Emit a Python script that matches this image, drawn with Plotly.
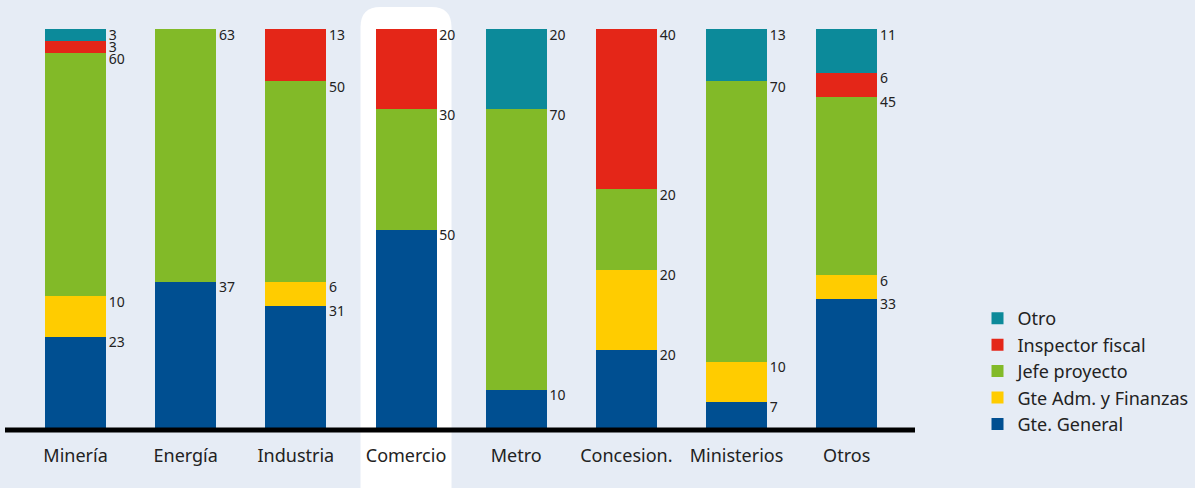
import plotly.graph_objects as go

categories = ["Minería", "Energía", "Industria", "Comercio", "Metro", "Concesion.", "Ministerios", "Otros"]
gte_general = [23, 37, 31, 50, 10, 20, 7, 33]
gte_adm = [10, 0, 6, 0, 0, 20, 10, 6]
jefe_proyecto = [60, 63, 50, 30, 70, 20, 70, 45]
inspector = [3, 0, 13, 20, 0, 40, 0, 6]
otro = [3, 0, 0, 0, 20, 0, 13, 11]

series = [
    ("Gte. General", gte_general, "#004F91"),
    ("Gte Adm. y Finanzas", gte_adm, "#FFCC00"),
    ("Jefe proyecto", jefe_proyecto, "#82BA28"),
    ("Inspector fiscal", inspector, "#E42618"),
    ("Otro", otro, "#0C8A9A"),
]

highlight = "Comercio"
FONT = "Noto Sans"
BG = "#E6ECF5"
xr = [-0.64, 7.62]
bar_w = 0.554

x = list(range(len(categories)))
fig = go.Figure()
for name, vals, col in series:
    fig.add_trace(go.Bar(x=x, y=vals, name=name, marker=dict(color=col, line=dict(width=0)),
                         width=bar_w, hoverinfo="skip"))

# labels at top of each segment (normalized to percent like barnorm)
totals = [sum(s[1][i] for s in series) for i in x]
lx, ly, lt = [], [], []
for i in x:
    cum = 0
    for name, vals, col in series:
        v = vals[i]
        cum += v
        if v > 0:
            lx.append(i + bar_w / 2 + 0.025)
            ly.append(cum / totals[i] * 100)
            lt.append(str(v))
fig.add_trace(go.Scatter(x=lx, y=ly, text=lt, mode="text", textposition="bottom right",
                         textfont=dict(family=FONT, size=14, color="#222222"),
                         showlegend=False, hoverinfo="skip", cliponaxis=False))

hi = categories.index(highlight)
def px(v):
    return (v - xr[0]) / (xr[1] - xr[0])
x0, x1 = px(hi - 0.413), px(hi + 0.413)
y0, y1 = -0.2, 1.055
rx = 20 / 910
ry = 20 / 401
path = (f"M {x0},{y0} L {x0},{y1-ry} Q {x0},{y1} {x0+rx},{y1} L {x1-rx},{y1} "
        f"Q {x1},{y1} {x1},{y1-ry} L {x1},{y0} Z")
fig.add_shape(type="path", path=path, xref="paper", yref="paper", fillcolor="white",
              line=dict(width=0), layer="below")
fig.add_shape(type="line", xref="paper", yref="paper", x0=0, x1=1, y0=0, y1=0,
              line=dict(color="black", width=5), layer="above")

fig.update_layout(
    barmode="stack", barnorm="percent",
    width=1195, height=488,
    margin=dict(l=5, r=280, t=29, b=58, autoexpand=False),
    paper_bgcolor=BG, plot_bgcolor="rgba(0,0,0,0)",
    font=dict(family=FONT, size=18, color="#222222"),
    legend=dict(traceorder="reversed", xref="container", yref="container",
                x=0.818, y=0.385, xanchor="left", yanchor="top",
                font=dict(family=FONT, size=18, color="#222222"), bgcolor="rgba(0,0,0,0)",
                itemwidth=30, tracegroupgap=0),
    xaxis=dict(range=xr, tickmode="array", tickvals=x, ticktext=categories, showgrid=False,
               zeroline=False, showline=False, ticks="outside", ticklen=9, tickcolor="rgba(0,0,0,0)",
               tickfont=dict(family=FONT, size=18, color="#222222")),
    yaxis=dict(range=[0, 100], visible=False, showgrid=False, zeroline=False),
    showlegend=True,
)
fig.write_html("out.html", config={"displayModeBar": False},
               post_script="document.body.style.margin='0';document.body.style.overflow='hidden';")
